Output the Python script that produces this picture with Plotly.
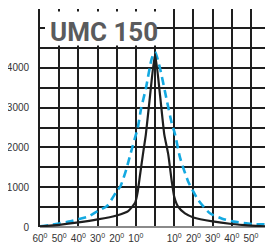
import plotly.graph_objects as go

# Data
black_angles = [-60, -50, -40, -30, -20, -14, -10.4, -9, -7.8, -6.1, -4.8, -2.6, 0,
                2.6, 4.8, 6.9, 8.7, 10, 12, 15.6, 20, 30, 40, 50, 58.5]
black_values = [15, 55, 115, 190, 290, 400, 610, 900, 1320, 1900, 2330, 3310, 4350,
                3310, 2330, 1820, 1150, 760, 510, 340, 240, 140, 75, 35, 10]

blue_angles = [-60, -55, -50, -45, -40, -35, -30, -25, -20, -18, -15, -12, -9, -7.3,
               -4.8, -1.7, 0, 2.6, 6, 8.7, 10.4, 13, 17.3, 22.5, 28.6, 35, 41, 51, 58.5]
blue_values = [20, 50, 90, 135, 200, 260, 400, 530, 900, 1030, 1450, 1980, 2500, 2970,
               3480, 4240, 4400, 3985, 3210, 2610, 2330, 1750, 1140, 680, 345, 210, 135, 75, 65]

x_tick_vals = [-60, -50, -40, -30, -20, -10, 10, 20, 30, 40, 50]
x_tick_text = ["60<sup>0</sup>", "50<sup>0</sup>", "40<sup>0</sup>", "30<sup>0</sup>",
               "20<sup>0</sup>", "10<sup>0</sup>", "10<sup>0</sup>", "20<sup>0</sup>",
               "30<sup>0</sup>", "40<sup>0</sup>", "50<sup>0</sup>"]
y_tick_vals = [0, 1000, 2000, 3000, 4000]
y_tick_text = ["0", "1000", "2000", "3000", "4000"]
title_text = "UMC 150"

grid = "#1e1e1e"

fig = go.Figure()
fig.add_trace(go.Scatter(x=blue_angles, y=blue_values, mode="lines",
                         line=dict(color="#14a9e1", width=2.6, dash="8px,5px",
                                   shape="spline", smoothing=0.6),
                         hoverinfo="skip"))
fig.add_trace(go.Scatter(x=black_angles, y=black_values, mode="lines",
                         line=dict(color="#1e1e1e", width=2.2,
                                   shape="spline", smoothing=0.5),
                         hoverinfo="skip"))

# white label box covering the grid
fig.add_shape(type="rect", xref="x", yref="y", x0=-57.4, x1=0.6, y0=4560, y1=5420,
              fillcolor="white", line=dict(width=0), layer="above")
fig.add_annotation(x=-26.8, y=4900, xref="x", yref="y", text="<b>" + title_text + "</b>",
                   showarrow=False,
                   font=dict(family="Roboto, sans-serif", size=26, color="#5a5b5d"))

tick_font = dict(family="Liberation Sans, Arial, sans-serif", size=10, color="#333")
fig.update_xaxes(range=[-60, 61.5], tickvals=x_tick_vals, ticktext=x_tick_text,
                 showgrid=True, gridcolor=grid, gridwidth=1.8,
                 minor=dict(tick0=0, dtick=10, showgrid=True, gridcolor=grid, gridwidth=1.8,
                            ticks=""),
                 zeroline=False, showline=False, ticks="", ticklabelstandoff=4,
                 tickfont=tick_font)
fig.update_yaxes(range=[0, 5480], tickvals=y_tick_vals, ticktext=y_tick_text,
                 showgrid=True, gridcolor=grid, gridwidth=1.8,
                 minor=dict(tick0=0, dtick=500, showgrid=True, gridcolor=grid, gridwidth=1.8,
                            ticks=""),
                 zeroline=True, zerolinecolor="#8a8a8a", zerolinewidth=1.8,
                 showline=True, linecolor=grid, linewidth=1.8,
                 ticks="", ticklabelstandoff=7, tickfont=tick_font)

# the page body adds an 8px margin, so the figure is 8px smaller and starts at (8, 8)
fig.update_layout(width=265, height=238, margin=dict(l=32, r=0, t=1, b=19),
                  paper_bgcolor="white", plot_bgcolor="white", showlegend=False)

fig.write_html("out.html")
